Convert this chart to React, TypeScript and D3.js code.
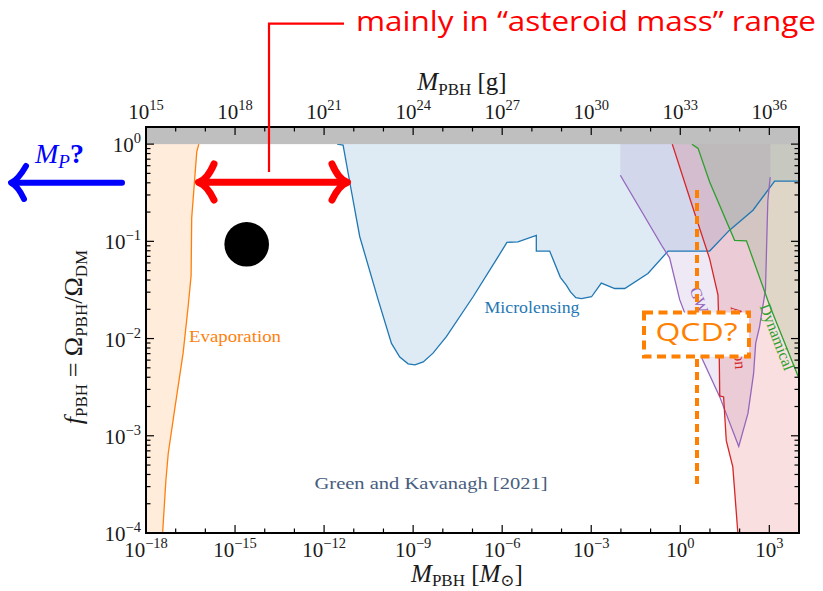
import React from 'react';
import * as d3 from 'd3';

// ---- data (log10 values) ----
const evapLogM = [-17.44, -17.33, -17.25, -17.02, -16.75, -16.58, -16.48, -16.46, -16.29, -16.22];
const evapLogF = [-4.0, -3.46, -3.18, -2.70, -2.15, -1.67, -1.35, -0.76, -0.08, 0];

const microLogM = [-11.56, -11.36, -11.13, -10.80, -10.18, -9.73, -9.45, -9.17, -8.94, -8.66, -8.33, -7.88, -6.98, -6.14, -5.84, -5.47, -4.85, -4.85, -4.40, -4.04, -3.84, -3.70, -3.52, -3.33, -2.99, -2.66, -2.21, -1.87, -1.09, -0.41, 0.99, 1.66, 2.45, 3.18, 4.0];
const microLogF = [0, -0.01, -0.40, -0.95, -1.60, -2.05, -2.19, -2.26, -2.27, -2.24, -2.15, -1.98, -1.57, -1.16, -1.01, -1.005, -0.94, -1.10, -1.10, -1.37, -1.45, -1.52, -1.58, -1.59, -1.57, -1.43, -1.485, -1.485, -1.33, -1.10, -1.10, -0.885, -0.68, -0.38, -0.38];

const gwLogM = [-2.02, -0.63, -0.36, -0.02, 0.71, 1.33, 1.97, 2.28, 2.47, 2.54, 2.67, 2.87, 2.95, 3.03];
const gwLogF = [-0.32, -1.04, -1.17, -1.60, -2.19, -2.60, -3.11, -2.77, -2.36, -2.05, -1.88, -1.50, -0.58, -0.34];

const accLogM = [-0.27, 0.43, 0.99, 1.27, 1.30, 1.33, 1.46, 1.55, 1.77, 1.94];
const accLogF = [0, -0.66, -1.18, -1.55, -1.88, -2.59, -2.60, -3.05, -3.32, -4.0];

const dynLogM = [0.39, 0.60, 0.99, 1.83, 2.23, 3.01, 4.0];
const dynLogF = [0, -0.044, -0.39, -0.99, -0.995, -1.66, -2.41];

const xTickExps = [-18, -15, -12, -9, -6, -3, 0, 3];
const topTickExps = [15, 18, 21, 24, 27, 30, 33, 36];
const yTickExps = [-4, -3, -2, -1, 0];

const SERIF = "'Liberation Serif', 'DejaVu Serif', serif";
const SANS = "'Open Sans', 'Noto Sans', sans-serif";

type P = [number, number];

export default function App() {
  const L = 146, R = 799, T = 127, B = 533;
  const x = d3.scaleLog().domain([1e-18, 1e4]).range([L, R]);
  const y = d3.scaleLog().domain([1e-4, 1.5]).range([B, T]);
  const y1 = y(1);

  const pts = (lm: number[], lf: number[]): P[] => lm.map((m, i) => [10 ** m, 10 ** lf[i]] as P);
  const line = d3.line<P>().x(d => x(d[0])).y(d => y(d[1]));

  const evap = pts(evapLogM, evapLogF);
  const micro = pts(microLogM, microLogF);
  const gw = pts(gwLogM, gwLogF);
  const acc = pts(accLogM, accLogF);
  const dyn = pts(dynLogM, dynLogF);

  const evapFill: P[] = [...evap, [1e-18, 1], [1e-18, 1e-4]];
  const microFill: P[] = [...micro, [1e4, 1]];
  const gwFill: P[] = [...gw, [10 ** gwLogM[gwLogM.length - 1], 1], [10 ** gwLogM[0], 1]];
  const accFill: P[] = [...acc, [1e4, 1e-4], [1e4, 1]];
  const dynFill: P[] = [...dyn, [1e4, 1]];

  const closed = (p: P[]) => line(p) + 'Z';

  const series = [
    { fill: evapFill, ln: evap, c: '#ff7f0e', a: 0.15 },
    { fill: microFill, ln: micro, c: '#1f77b4', a: 0.15 },
    { fill: gwFill, ln: gw, c: '#9467bd', a: 0.15 },
    { fill: accFill, ln: acc, c: '#d62728', a: 0.15 },
    { fill: dynFill, ln: dyn, c: '#2ca02c', a: 0.12 },
  ];

  const xMinor: number[] = [];
  for (let e = -18; e <= 4; e++) xMinor.push(10 ** e);
  const yMinor: number[] = [];
  for (let e = -4; e < 0; e++) for (let k = 2; k <= 9; k++) yMinor.push(k * 10 ** e);

  const fmt = (e: number) => (e < 0 ? '\u2212' + Math.abs(e) : String(e));

  return (
    <svg width={823} height={591} style={{ position: 'absolute', left: 0, top: 0, background: '#fff' }}
      xmlns="http://www.w3.org/2000/svg">
      <defs>
        <clipPath id="plot">
          <rect x={L} y={y1} width={R - L} height={B - y1} />
        </clipPath>
      </defs>

      <g clipPath="url(#plot)">
        {series.map((s, i) => (
          <path key={'f' + i} d={closed(s.fill)} fill={s.c} fillOpacity={s.a} stroke="none" />
        ))}
        {series.map((s, i) => (
          <path key={'l' + i} d={line(s.ln) || ''} fill="none" stroke={s.c} strokeWidth={1.3} />
        ))}
      </g>

      <rect x={L} y={T} width={R - L} height={y1 - T} fill="#bfbfbf" />

      {/* constraint labels */}
      <text x={235} y={342} fontFamily={SERIF} fontSize={16.5} fill="#ff7f0e" textAnchor="middle" textLength={92} lengthAdjust="spacingAndGlyphs">Evaporation</text>
      <text x={532} y={313} fontFamily={SERIF} fontSize={16.5} fill="#1f77b4" textAnchor="middle" textLength={95} lengthAdjust="spacingAndGlyphs">Microlensing</text>
      <text transform="translate(694,302) rotate(70)" fontFamily={SERIF} fontSize={16} fill="#9467bd" textAnchor="middle">GW</text>
      <text transform="translate(733,338) rotate(86)" fontFamily={SERIF} fontSize={16} fill="#d62728" textAnchor="middle">Accretion</text>
      <text transform="translate(772,339) rotate(69)" fontFamily={SERIF} fontSize={16} fill="#2ca02c" textAnchor="middle">Dynamical</text>
      <text x={431} y={489} fontFamily={SERIF} fontSize={17} fill="#475d7e" textAnchor="middle" textLength={233} lengthAdjust="spacingAndGlyphs">Green and Kavanagh [2021]</text>

      {/* ticks */}
      <g stroke="#000" strokeWidth={1.2}>
        {xMinor.map((v, i) => {
          const major = Math.round(Math.log10(v)) % 3 === 0;
          const len = major ? 8 : 4.5;
          return (
            <g key={'xt' + i}>
              <line x1={x(v)} x2={x(v)} y1={B} y2={B - len} />
              <line x1={x(v)} x2={x(v)} y1={T} y2={T + len} />
            </g>
          );
        })}
        {yTickExps.map((e, i) => (
          <g key={'ytM' + i}>
            <line x1={L} x2={L + 8} y1={y(10 ** e)} y2={y(10 ** e)} />
            <line x1={R} x2={R - 8} y1={y(10 ** e)} y2={y(10 ** e)} />
          </g>
        ))}
        {yMinor.map((v, i) => (
          <g key={'ytm' + i}>
            <line x1={L} x2={L + 4.5} y1={y(v)} y2={y(v)} />
            <line x1={R} x2={R - 4.5} y1={y(v)} y2={y(v)} />
          </g>
        ))}
      </g>

      <rect x={L} y={T} width={R - L} height={B - T} fill="none" stroke="#000" strokeWidth={2} />

      {/* tick labels */}
      <g fontFamily={SERIF} fill="#1a1a1a">
        {xTickExps.map(e => (
          <text key={'xl' + e} x={x(10 ** e)} y={557} fontSize={21} textAnchor="middle">
            10<tspan dy={-9} fontSize={14.5}>{fmt(e)}</tspan>
          </text>
        ))}
        {topTickExps.map(e => (
          <text key={'tl' + e} x={x(10 ** (e - 33))} y={119} fontSize={21} textAnchor="middle">
            10<tspan dy={-9} fontSize={14.5}>{fmt(e)}</tspan>
          </text>
        ))}
        {yTickExps.map(e => (
          <text key={'yl' + e} x={141} y={y(10 ** e) + 8} fontSize={21} textAnchor="end">
            10<tspan dy={-9} fontSize={14.5}>{fmt(e)}</tspan>
          </text>
        ))}
      </g>

      {/* axis titles */}
      <g fontFamily={SERIF} fill="#1a1a1a">
        <text x={467} y={582} fontSize={25} textAnchor="middle">
          <tspan fontStyle="italic">M</tspan>
          <tspan dy={4} fontSize={17}>PBH</tspan>
          <tspan dy={-4}> [</tspan>
          <tspan fontStyle="italic">M</tspan>
          <tspan dy={4} fontSize={17}>{'\u2299'}</tspan>
          <tspan dy={-4}>]</tspan>
        </text>
        <text x={462} y={90} fontSize={25} textAnchor="middle">
          <tspan fontStyle="italic">M</tspan>
          <tspan dy={5} fontSize={17}>PBH</tspan>
          <tspan dy={-5}> [g]</tspan>
        </text>
        <text transform="translate(82,337) rotate(-90)" fontSize={26} textAnchor="middle">
          <tspan fontStyle="italic">f</tspan>
          <tspan dy={5} fontSize={17}>PBH</tspan>
          <tspan dy={-5}> = Ω</tspan>
          <tspan dy={5} fontSize={17}>PBH</tspan>
          <tspan dy={-5}>/Ω</tspan>
          <tspan dy={5} fontSize={17}>DM</tspan>
        </text>
      </g>

      {/* annotations */}
      <text x={356} y={31} fontFamily={SANS} fontSize={28} fill="#ff0000" textLength={460} lengthAdjust="spacingAndGlyphs">
        mainly in “asteroid mass” range
      </text>
      <path d="M344,23.6 H269 V172" fill="none" stroke="#ff0000" strokeWidth={2.2} />
      <g stroke="#ff0000" strokeWidth={7} fill="none" strokeLinecap="round" strokeLinejoin="round">
        <line x1={200} x2={346} y1={182.3} y2={182.3} />
        <path d="M214,164 Q207,180 198.5,182.3 Q207,185 214,200" />
        <path d="M332,164 Q339,180 347.5,182.3 Q339,185 332,200" />
      </g>
      <circle cx={246.7} cy={244.3} r={22.3} fill="#000" />

      <g stroke="#0000ff" strokeWidth={6} fill="none" strokeLinecap="round" strokeLinejoin="round">
        <line x1={12} x2={122} y1={182.7} y2={182.7} />
        <path d="M26,166 Q18,180 11,182.7 Q18,186 24,199" />
      </g>
      <text x={35} y={163} fontFamily={SERIF} fontSize={28} fill="#0000ff">
        <tspan fontStyle="italic">M</tspan>
        <tspan dy={5} fontSize={19} fontStyle="italic">P</tspan>
        <tspan dy={-5} fontWeight="bold">?</tspan>
      </text>

      <line x1={697} x2={697} y1={190} y2={485} stroke="#ff8000" strokeWidth={4} strokeDasharray="8 5" />
      <rect x={644} y={312.5} width={105} height={44} fill="#fff" stroke="#ff8000" strokeWidth={4} strokeDasharray="9 5.5" />
      <text x={696.5} y={341} fontFamily={SANS} fontSize={26} fill="#ff8000" textAnchor="middle" textLength={82} lengthAdjust="spacingAndGlyphs">QCD?</text>
    </svg>
  );
}
